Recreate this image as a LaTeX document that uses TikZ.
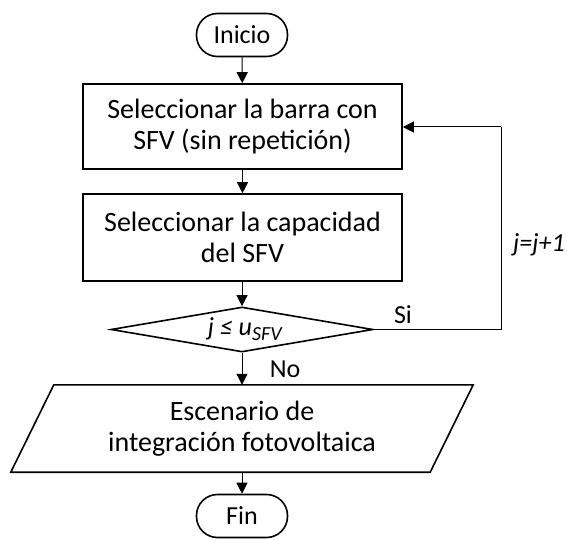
\documentclass[tikz,border=0pt]{standalone}
\usepackage{fontspec}
\setmainfont{Carlito}
\usetikzlibrary{arrows.meta,shapes.geometric,calc}
\begin{document}
\begin{tikzpicture}[x=1pt,y=-1pt,
  font=\fontsize{26}{31}\selectfont,
  big/.style={font=\fontsize{28}{31}\selectfont},
  box/.style={draw,line width=1.6pt,minimum width=319pt,align=center,inner sep=0pt,big},
  term/.style={draw,line width=1.6pt,rounded corners=21pt,minimum width=91pt,minimum height=43pt,inner sep=0pt},
  conn/.style={line width=1pt,-{Triangle[length=11pt,width=11pt]}},
  plain/.style={line width=1pt}]
\useasboundingbox[fill=white] (0,0) rectangle (567,540);
\node[term] (ini) at (242,35) {Inicio};
\node[box,minimum height=85pt] (b1) at (242.5,126.5) {Seleccionar la barra con\\SFV (sin repetición)};
\node[box,minimum height=87pt] (b2) at (242.5,237.5) {Seleccionar la capacidad\\del SFV};
\node[diamond,draw,line width=1.6pt,minimum width=262pt,minimum height=45pt,inner sep=0pt,aspect=5.8] (dec) at (242,329.5) {};
\node[inner sep=0pt] (dect) at (245,329) {\itshape j ≤ u\textsubscript{\fontsize{20}{22}\selectfont SFV}};
\node[minimum width=419pt,minimum height=87pt,inner sep=0pt,align=center,big] (par) at (242,428.5) {Escenario de\\integración fotovoltaica};
\draw[line width=1.6pt] ($(par.north west)+(21.5,0)$) -- ($(par.north east)+(21.5,0)$) -- ($(par.south east)+(-21.5,0)$) -- ($(par.south west)+(-21.5,0)$) -- cycle;
\node[term] (fin) at (242,516) {Fin};
\coordinate (c1) at (501,329.5);
\coordinate (c2) at (501,127);
\draw[conn] (ini) -- (b1);
\draw[conn] (b1) -- (b2);
\draw[conn] (b2.south -| dec.north) -- (dec.north);
\draw[conn] (dec.south) -- (par.north -| dec.south);
\draw[conn] (par.south -| fin.north) -- (fin.north);
\draw[plain] (dec.east) -- (c1) -- (c2);
\draw[conn] (c2) -- (b1.east |- c2);
\node (si) at (403,315) {Si};
\node (no) at (285,369) {No};
\node (jj) at (539,245) {\itshape j=j+1};
\end{tikzpicture}
\end{document}
